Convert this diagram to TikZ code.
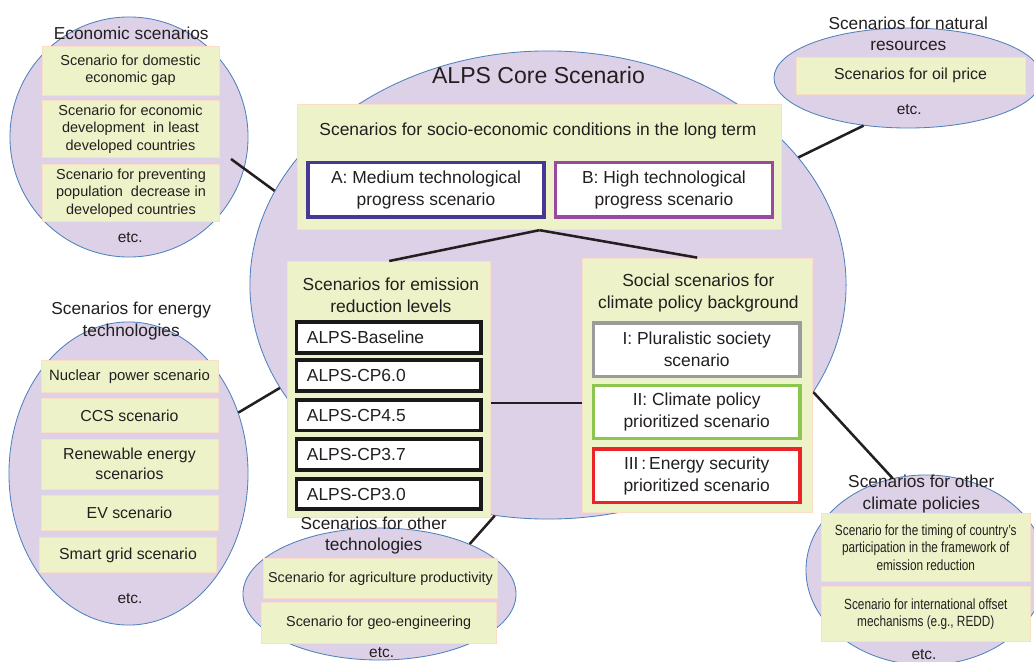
\documentclass[tikz,border=0pt]{standalone}
\usepackage{fontspec}
\setmainfont{Liberation Sans}
\newfontfamily\narrowfont[FakeStretch=0.8]{Liberation Sans}
\usetikzlibrary{shapes.geometric}

\definecolor{lavender}{RGB}{221,209,231}
\definecolor{ellblue}{RGB}{79,129,189}
\definecolor{paleyellow}{RGB}{238,242,200}
\definecolor{peach}{RGB}{250,222,200}
\definecolor{inkgray}{RGB}{35,31,32}
\definecolor{bluepurple}{RGB}{72,56,150}
\definecolor{plum}{RGB}{152,74,160}
\definecolor{greyline}{RGB}{155,155,158}
\definecolor{grassgreen}{RGB}{140,198,80}
\definecolor{alarmred}{RGB}{234,36,40}

\begin{document}
\begin{tikzpicture}[x=0.025cm,y=-0.025cm,
  group node/.style={ellipse,draw=ellblue,fill=lavender,line width=0.6pt,inner sep=0pt},
  item node/.style={rectangle,draw=peach,fill=paleyellow,line width=0.5pt,inner sep=0pt,align=center,text=inkgray},
  main text/.style={font={\fontsize{12.4}{15.6}\selectfont},text=inkgray},
  head text/.style={align=center,font={\fontsize{12.3}{15}\selectfont},text=inkgray},
  small text/.style={font={\fontsize{10.3}{12.4}\selectfont}},
  mid text/.style={font={\fontsize{11.3}{14.2}\selectfont}},
  narrow text/.style={font={\narrowfont\fontsize{10.5}{12.6}\selectfont}},
  etc text/.style={font={\fontsize{11}{13}\selectfont},text=inkgray},
  pick node/.style={rectangle,fill=white,line width=2.4pt,inner sep=0pt,align=center,main text},
  level node/.style={rectangle,draw=black!90,fill=white,line width=2.8pt,inner sep=0pt,inner xsep=0.26cm,
    text width=4.1cm,align=left,minimum height=0.77cm,main text},
  thick line/.style={line width=1.8pt,draw=inkgray}]

  \useasboundingbox (0,0) rectangle (1034,662);

  % ALPS core
  \node[group node,minimum width=14.9cm,minimum height=11.7cm] (0) at (548,285) {};
  \node[main text,font={\fontsize{16.4}{19}\selectfont}] (00) at (538.5,75) {ALPS Core Scenario};

  \node[item node,minimum width=12.1cm,minimum height=3.14cm] (6) at (539.5,167) {};
  \node[main text] (60) at (538,131) {Scenarios for socio-economic conditions in the long term};
  \node[pick node,draw=bluepurple,minimum width=5.89cm,minimum height=1.365cm] (61) at (426,189.7) {A: Medium technological\\progress scenario};
  \node[pick node,draw=plum,minimum width=5.43cm,minimum height=1.365cm] (62) at (664,189.7) {B: High technological\\progress scenario};

  \node[item node,minimum width=5.075cm,minimum height=6.395cm] (7) at (389.2,389.3) {};
  \node[main text,align=center] (70) at (390.9,295.5) {Scenarios for emission\\reduction levels};
  \node[level node] (71) at (388.9,337.3) {ALPS-Baseline};
  \node[level node] (72) at (388.9,375.6) {ALPS-CP6.0};
  \node[level node] (73) at (388.9,415.1) {ALPS-CP4.5};
  \node[level node] (74) at (388.9,454.7) {ALPS-CP3.7};
  \node[level node] (75) at (388.9,494) {ALPS-CP3.0};

  \node[item node,minimum width=5.74cm,minimum height=6.35cm] (8) at (697.2,385) {};
  \node[main text,align=center] (80) at (698.4,293) {Social scenarios for\\climate policy background};
  \node[pick node,draw=greyline,minimum width=5.165cm,minimum height=1.34cm] (81) at (696.7,349.7) {I: Pluralistic society\\scenario};
  \node[pick node,draw=grassgreen,minimum width=5.165cm,minimum height=1.34cm] (82) at (696.7,412) {II: Climate policy\\prioritized scenario};
  \node[pick node,draw=alarmred,minimum width=5.165cm,minimum height=1.34cm] (83) at (696.7,475.9) {III\,:\,Energy security\\prioritized scenario};

  % economic
  \node[group node,minimum width=5.95cm,minimum height=6.0cm] (1) at (129,137) {};
  \node[head text] (10) at (131.3,33.5) {Economic scenarios};
  \node[item node,small text,minimum width=4.42cm,minimum height=1.23cm] (11) at (130.5,70.5) {Scenario for domestic\\economic gap};
  \node[item node,small text,minimum width=4.42cm,minimum height=1.42cm] (12) at (130.5,129) {Scenario for economic\\development\ \ in least\\developed countries};
  \node[item node,small text,minimum width=4.42cm,minimum height=1.42cm] (13) at (131,193) {Scenario for preventing\\population\ \ decrease in\\developed countries};
  \node[etc text] (14) at (130.3,238) {etc.};

  % energy technologies
  \node[group node,minimum width=5.975cm,minimum height=7.575cm] (2) at (128.5,473.5) {};
  \node[head text] (20) at (131.2,321) {Scenarios for energy\\technologies};
  \node[item node,font={\fontsize{10.6}{13}\selectfont},minimum width=4.425cm,minimum height=0.81cm] (21) at (129.5,376.5) {Nuclear\ \ power scenario};
  \node[item node,mid text,minimum width=4.425cm,minimum height=0.86cm] (22) at (129.5,415.5) {CCS scenario};
  \node[item node,mid text,minimum width=4.425cm,minimum height=1.25cm] (23) at (129.5,464) {Renewable energy\\scenarios};
  \node[item node,mid text,minimum width=4.425cm,minimum height=0.875cm] (24) at (129.5,512.5) {EV scenario};
  \node[item node,mid text,minimum width=4.425cm,minimum height=0.875cm] (25) at (128,555) {Smart grid scenario};
  \node[etc text] (26) at (130,598.3) {etc.};

  % natural resources
  \node[group node,minimum width=6.7cm,minimum height=2.5cm] (3) at (908,78) {};
  \node[head text] (30) at (908.3,33.7) {Scenarios for natural\\resources};
  \node[item node,mid text,minimum width=5.725cm,minimum height=0.92cm] (31) at (910.5,75.5) {Scenarios for oil price};
  \node[etc text] (32) at (909.3,110) {etc.};

  % other technologies
  \node[group node,minimum width=6.825cm,minimum height=3.3cm] (4) at (379.5,594) {};
  \node[head text] (40) at (373.7,535.5) {Scenarios for other\\technologies};
  \node[item node,font={\fontsize{10.2}{12.4}\selectfont},minimum width=5.86cm,minimum height=1.01cm] (41) at (380.5,578.5) {Scenario for agriculture productivity};
  \node[item node,font={\fontsize{10.2}{12.4}\selectfont},minimum width=5.86cm,minimum height=1.01cm] (42) at (378.7,623) {Scenario for geo-engineering};
  \node[etc text] (43) at (381.7,652.7) {etc.};

  % other climate policies
  \node[group node,minimum width=6.0cm,minimum height=4.75cm] (5) at (926,570) {};
  \node[head text] (50) at (921.3,494) {Scenarios for other\\climate policies};
  \node[item node,narrow text,minimum width=5.21cm,minimum height=1.71cm] (51) at (925.8,547.5) {Scenario for the timing of country’s\\participation in the framework of\\emission reduction};
  \node[item node,narrow text,minimum width=5.21cm,minimum height=1.375cm] (52) at (925.8,614.2) {Scenario for international offset\\mechanisms (e.g., REDD)};
  \node[etc text] (53) at (924,655) {etc.};

  \coordinate (c1) at (231,159);

  \path[thick line]
   (6.south) edge (7.north)
   (6.south) edge (8.north)
   (c1) edge (0.161)
   (2.29) edge (0.201)
   (3.227) edge (0.27)
   (4.29) edge (0.257)
   (0.338) edge (5.110);
  \draw[thick line] ([yshift=-0.34cm]7.east) -- ([yshift=-0.34cm]7.east -| 8.west);
\end{tikzpicture}
\end{document}
